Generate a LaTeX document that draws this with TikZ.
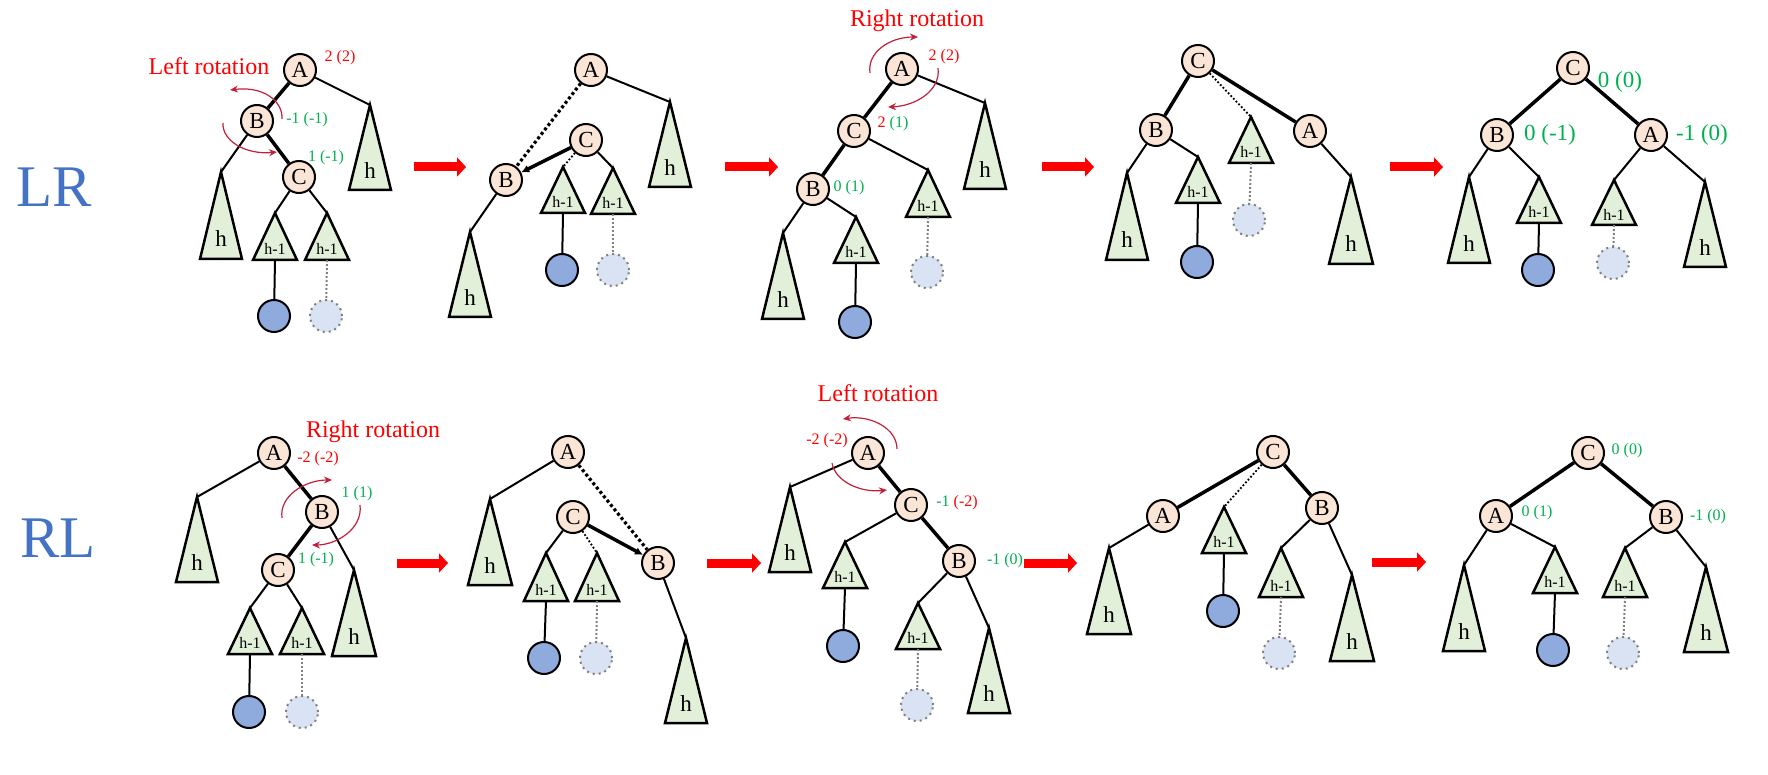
\documentclass[tikz,border=0pt]{standalone}
\usepackage{fontspec}
\setmainfont{Liberation Serif}
\usetikzlibrary{arrows.meta}
\definecolor{peach}{HTML}{FBE5D6}
\definecolor{trigreen}{HTML}{E2F0D9}
\definecolor{leafblue}{HTML}{8FAADC}
\definecolor{ghostfill}{HTML}{DAE3F3}
\definecolor{titleblue}{HTML}{4472C4}
\definecolor{labred}{HTML}{FF0000}
\definecolor{labgreen}{HTML}{00B050}
\definecolor{rotred}{HTML}{C0203A}
\newcommand{\mytree}[7]{%
  \coordinate (#1) at (#2,#3);
  \coordinate (#1b) at (#2,#4);
  \draw[tri] (#1) -- ({#2-#5},#4) -- ({#2+#5},#4) -- cycle;
  \node[#6] (#1l) at (#2,{#3+0.77*(#4-#3)}) {#7};
}
\begin{document}
\begin{tikzpicture}[x=0.5pt,y=-0.5pt,
  vtx/.style={circle,draw,fill=peach,line width=1pt,minimum size=16pt,inner sep=0pt,font=\fontsize{11.5}{12}\selectfont},
  leaf/.style={circle,draw,fill=leafblue,line width=1pt,minimum size=16pt,inner sep=0pt},
  ghost/.style={circle,draw=gray,fill=ghostfill,dotted,line width=1pt,minimum size=16pt,inner sep=0pt},
  tri/.style={draw,fill=trigreen,line width=1.25pt},
  hlab/.style={inner sep=0pt,font=\fontsize{11.5}{12}\selectfont},
  hmlab/.style={inner sep=0pt,font=\fontsize{8}{9}\selectfont},
  edge/.style={line width=1pt},
  thickedge/.style={line width=1.75pt},
  dotedge/.style={line width=1.6pt,dash pattern=on 1.5pt off 1.3pt},
  thindot/.style={line width=0.9pt,dash pattern=on 0.9pt off 1pt},
  leafedge/.style={line width=1pt},
  ghostedge/.style={draw=gray,line width=1pt,dash pattern=on 1pt off 1pt},
  movearr/.style={line width=1.75pt,-{Latex[length=4pt,width=4pt]}},
  bigarr/.style={draw=labred,line width=4.5pt,-{Triangle[length=4.5pt,width=9.5pt]}},
  rotarr/.style={draw=rotred,line width=0.6pt,-{Stealth[length=4pt,width=3.5pt]}},
  small/.style={inner sep=0pt,font=\fontsize{8}{9}\selectfont},
  bigl/.style={inner sep=0pt,font=\fontsize{11.5}{12}\selectfont},
  rottxt/.style={inner sep=0pt,text=labred,font=\fontsize{12}{14}\selectfont},
  title/.style={inner sep=0pt,text=titleblue,font=\fontsize{29.5}{32}\selectfont}
]
\useasboundingbox (0,0) rectangle (1768,775);

% ---------- row titles ----------
\node[title] (LR) at (54,187) {LR};
\node[title] (RL) at (58,538) {RL};

% ================= TOP ROW (LR) =================
% panel 1
\node[vtx] (A1) at (300,70) {A};
\node[vtx] (B1) at (257,121) {B};
\node[vtx] (C1) at (299,177) {C};
\mytree{t1R}{370}{105}{190}{21}{hlab}{h}
\mytree{t1L}{221}{172}{259}{21}{hlab}{h}
\mytree{t1c}{275}{213}{260}{22}{hmlab}{h-1}
\mytree{t1d}{327}{213}{260}{22}{hmlab}{h-1}
\node[leaf] (L1) at (274,316) {};
\node[ghost] (G1) at (326,316) {};
\draw[thickedge] (A1) -- (B1);
\draw[thickedge] (B1) -- (C1);
\draw[edge] (A1) -- (t1R);
\draw[edge] (B1) -- (t1L);
\draw[edge] (C1) -- (t1c);
\draw[edge] (C1) -- (t1d);
\draw[leafedge] (t1cb) -- (L1);
\draw[ghostedge] (t1db) -- (G1);
\node[small,text=labred] (n1a) at (340,58) {2 (2)};
\node[small,text=labgreen] (n1b) at (307,120) {-1 (-1)};
\node[small,text=labgreen] (n1c) at (326,158) {1 (-1)};
\node[rottxt] (r1) at (209,66) {Left rotation};
\coordinate (r1s) at (282,119); \coordinate (r1e) at (230,90);
\draw[rotarr] (r1s) .. controls (283,100) and (262,86) .. (r1e);
\coordinate (r1t) at (223,123); \coordinate (r1u) at (277,152);
\draw[rotarr] (r1t) .. controls (222,141) and (246,155) .. (r1u);
\coordinate (ar1a) at (414,167); \coordinate (ar1b) at (466,167);
\draw[bigarr] (ar1a) -- (ar1b);

% panel 2
\node[vtx] (A2) at (591,70) {A};
\node[vtx] (C2) at (586,140) {C};
\node[vtx] (B2) at (506,180) {B};
\mytree{t2R}{670}{102}{187}{21}{hlab}{h}
\mytree{t2L}{470}{232}{317}{21}{hlab}{h}
\mytree{t2c}{563}{167}{213}{22}{hmlab}{h-1}
\mytree{t2d}{613}{168}{214}{22}{hmlab}{h-1}
\node[leaf] (L2) at (562,270) {};
\node[ghost] (G2) at (613,270) {};
\draw[edge] (A2) -- (t2R);
\draw[dotedge] (A2) -- (B2);
\draw[movearr] (C2) -- (B2);
\draw[thindot] (C2) -- (t2c);
\draw[edge] (C2) -- (t2d);
\draw[edge] (B2) -- (t2L);
\draw[leafedge] (t2cb) -- (L2);
\draw[ghostedge] (t2db) -- (G2);
\coordinate (ar2a) at (725,167); \coordinate (ar2b) at (778,167);
\draw[bigarr] (ar2a) -- (ar2b);

% panel 3
\node[vtx] (A3) at (902,69) {A};
\node[vtx] (C3) at (854,131) {C};
\node[vtx] (B3) at (813,189) {B};
\mytree{t3R}{985}{103}{189}{21}{hlab}{h}
\mytree{t3d}{928}{170}{217}{22}{hmlab}{h-1}
\mytree{t3L}{783}{233}{319}{21}{hlab}{h}
\mytree{t3c}{856}{217}{263}{22}{hmlab}{h-1}
\node[ghost] (G3) at (927,272) {};
\node[leaf] (L3) at (855,322) {};
\draw[thickedge] (A3) -- (C3);
\draw[thickedge] (C3) -- (B3);
\draw[edge] (A3) -- (t3R);
\draw[edge] (C3) -- (t3d);
\draw[edge] (B3) -- (t3L);
\draw[edge] (B3) -- (t3c);
\draw[leafedge] (t3cb) -- (L3);
\draw[ghostedge] (t3db) -- (G3);
\node[rottxt] (r3) at (917,21) {Right rotation};
\node[small,text=labred] (n3a) at (944,57) {2 (2)};
\node[small] (n3b) at (893,124) {\textcolor{labred}{2} \textcolor{labgreen}{(1)}};
\node[small,text=labgreen] (n3c) at (849,188) {0 (1)};
\coordinate (r3s) at (870,73); \coordinate (r3e) at (918,37);
\draw[rotarr] (r3s) .. controls (867,52) and (890,37) .. (r3e);
\coordinate (r3t) at (938,68); \coordinate (r3u) at (888,107);
\draw[rotarr] (r3t) .. controls (941,91) and (915,106) .. (r3u);
\coordinate (ar3a) at (1042,167); \coordinate (ar3b) at (1094,167);
\draw[bigarr] (ar3a) -- (ar3b);

% panel 4
\node[vtx] (C4) at (1198,61) {C};
\node[vtx] (B4) at (1156,130) {B};
\node[vtx] (A4) at (1310,131) {A};
\mytree{t4m}{1251}{117}{163}{22}{hmlab}{h-1}
\mytree{t4L}{1127}{173}{260}{21}{hlab}{h}
\mytree{t4c}{1198}{157}{203}{22}{hmlab}{h-1}
\mytree{t4R}{1351}{177}{264}{22}{hlab}{h}
\node[ghost] (G4) at (1249,220) {};
\node[leaf] (L4) at (1197,262) {};
\draw[thickedge] (C4) -- (B4);
\draw[thickedge] (C4) -- (A4);
\draw[thindot] (C4) -- (t4m);
\draw[edge] (B4) -- (t4L);
\draw[edge] (B4) -- (t4c);
\draw[edge] (A4) -- (t4R);
\draw[leafedge] (t4cb) -- (L4);
\draw[ghostedge] (t4mb) -- (G4);
\coordinate (ar4a) at (1390,167); \coordinate (ar4b) at (1443,167);
\draw[bigarr] (ar4a) -- (ar4b);

% panel 5
\node[vtx] (C5) at (1573,68) {C};
\node[vtx] (B5) at (1497,135) {B};
\node[vtx] (A5) at (1651,135) {A};
\mytree{t5L}{1469}{177}{263}{21}{hlab}{h}
\mytree{t5c}{1539}{177}{223}{22}{hmlab}{h-1}
\mytree{t5d}{1614}{180}{225}{22}{hmlab}{h-1}
\mytree{t5R}{1705}{182}{267}{21}{hlab}{h}
\node[leaf] (L5) at (1538,270) {};
\node[ghost] (G5) at (1613,263) {};
\draw[thickedge] (C5) -- (B5);
\draw[thickedge] (C5) -- (A5);
\draw[edge] (B5) -- (t5L);
\draw[edge] (B5) -- (t5c);
\draw[edge] (A5) -- (t5d);
\draw[edge] (A5) -- (t5R);
\draw[leafedge] (t5cb) -- (L5);
\draw[ghostedge] (t5db) -- (G5);
\node[bigl,text=labgreen] (n5a) at (1620,82) {0 (0)};
\node[bigl,text=labgreen] (n5b) at (1550,135) {0 (-1)};
\node[bigl,text=labgreen] (n5c) at (1702,135) {-1 (0)};

% ================= BOTTOM ROW (RL) =================
% panel 1
\node[vtx] (A6) at (274,453) {A};
\node[vtx] (B6) at (322,512) {B};
\node[vtx] (C6) at (278,570) {C};
\mytree{t6L}{197}{497}{582}{21}{hlab}{h}
\mytree{t6R}{354}{570}{656}{22}{hlab}{h}
\mytree{t6c}{250}{608}{654}{22}{hmlab}{h-1}
\mytree{t6d}{302}{608}{654}{22}{hmlab}{h-1}
\node[leaf] (L6) at (249,712) {};
\node[ghost] (G6) at (302,712) {};
\draw[thickedge] (A6) -- (B6);
\draw[thickedge] (B6) -- (C6);
\draw[edge] (A6) -- (t6L);
\draw[edge] (B6) -- (t6R);
\draw[edge] (C6) -- (t6c);
\draw[edge] (C6) -- (t6d);
\draw[leafedge] (t6cb) -- (L6);
\draw[ghostedge] (t6db) -- (G6);
\node[rottxt] (r6) at (373,432) {Right rotation};
\node[small,text=labred] (n6a) at (318,459) {-2 (-2)};
\node[small,text=labgreen] (n6b) at (357,494) {1 (1)};
\node[small,text=labgreen] (n6c) at (316,560) {1 (-1)};
\coordinate (r6s) at (282,518); \coordinate (r6e) at (332,480);
\draw[rotarr] (r6s) .. controls (279,496) and (305,480) .. (r6e);
\coordinate (r6t) at (360,505); \coordinate (r6u) at (312,545);
\draw[rotarr] (r6t) .. controls (363,529) and (336,545) .. (r6u);
\coordinate (ar6a) at (397,563); \coordinate (ar6b) at (448,563);
\draw[bigarr] (ar6a) -- (ar6b);

% panel 2
\node[vtx] (A7) at (568,452) {A};
\node[vtx] (C7) at (573,517) {C};
\node[vtx] (B7) at (658,563) {B};
\mytree{t7L}{490}{499}{585}{22}{hlab}{h}
\mytree{t7c}{546}{553}{601}{22}{hmlab}{h-1}
\mytree{t7d}{597}{553}{601}{22}{hmlab}{h-1}
\mytree{t7R}{686}{638}{723}{21}{hlab}{h}
\node[leaf] (L7) at (544,658) {};
\node[ghost] (G7) at (596,658) {};
\draw[edge] (A7) -- (t7L);
\draw[dotedge] (A7) -- (B7);
\draw[movearr] (C7) -- (B7);
\draw[edge] (C7) -- (t7c);
\draw[thindot] (C7) -- (t7d);
\draw[edge] (B7) -- (t7R);
\draw[leafedge] (t7cb) -- (L7);
\draw[ghostedge] (t7db) -- (G7);
\coordinate (ar7a) at (707,563); \coordinate (ar7b) at (761,563);
\draw[bigarr] (ar7a) -- (ar7b);

% panel 3
\node[vtx] (A8) at (868,453) {A};
\node[vtx] (C8) at (911,505) {C};
\node[vtx] (B8) at (959,561) {B};
\mytree{t8L}{790}{487}{572}{21}{hlab}{h}
\mytree{t8c}{845}{542}{588}{22}{hmlab}{h-1}
\mytree{t8d}{918}{603}{649}{22}{hmlab}{h-1}
\mytree{t8R}{989}{628}{713}{21}{hlab}{h}
\node[leaf] (L8) at (843,646) {};
\node[ghost] (G8) at (917,705) {};
\draw[thickedge] (A8) -- (C8);
\draw[thickedge] (C8) -- (B8);
\draw[edge] (A8) -- (t8L);
\draw[edge] (C8) -- (t8c);
\draw[edge] (B8) -- (t8d);
\draw[edge] (B8) -- (t8R);
\draw[leafedge] (t8cb) -- (L8);
\draw[ghostedge] (t8db) -- (G8);
\node[rottxt] (r8) at (878,393) {Left rotation};
\node[small,text=labred] (n8a) at (827,441) {-2 (-2)};
\node[small] (n8b) at (957,503) {\textcolor{labgreen}{-1} \textcolor{labred}{(-2)}};
\node[small,text=labgreen] (n8c) at (1005,561) {-1 (0)};
\coordinate (r8s) at (897,449); \coordinate (r8e) at (843,419);
\draw[rotarr] (r8s) .. controls (897,428) and (870,415) .. (r8e);
\coordinate (r8t) at (832,463); \coordinate (r8u) at (887,490);
\draw[rotarr] (r8t) .. controls (835,481) and (860,493) .. (r8u);
\coordinate (ar8a) at (1024,563); \coordinate (ar8b) at (1077,563);
\draw[bigarr] (ar8a) -- (ar8b);

% panel 4
\node[vtx] (C9) at (1273,452) {C};
\node[vtx] (A9) at (1163,516) {A};
\node[vtx] (B9) at (1322,508) {B};
\mytree{t9L}{1109}{548}{634}{22}{hlab}{h}
\mytree{t9m}{1224}{507}{553}{22}{hmlab}{h-1}
\mytree{t9c}{1281}{548}{597}{22}{hmlab}{h-1}
\mytree{t9R}{1352}{575}{661}{22}{hlab}{h}
\node[leaf] (L9) at (1223,611) {};
\node[ghost] (G9) at (1279,653) {};
\draw[thickedge] (C9) -- (A9);
\draw[thickedge] (C9) -- (B9);
\draw[thindot] (C9) -- (t9m);
\draw[edge] (A9) -- (t9L);
\draw[edge] (B9) -- (t9c);
\draw[edge] (B9) -- (t9R);
\draw[leafedge] (t9mb) -- (L9);
\draw[ghostedge] (t9cb) -- (G9);
\coordinate (ar9a) at (1372,562); \coordinate (ar9b) at (1426,562);
\draw[bigarr] (ar9a) -- (ar9b);

% panel 5
\node[vtx] (C10) at (1588,453) {C};
\node[vtx] (A10) at (1496,516) {A};
\node[vtx] (B10) at (1666,517) {B};
\mytree{t10L}{1464}{565}{651}{21}{hlab}{h}
\mytree{t10c}{1555}{547}{593}{22}{hmlab}{h-1}
\mytree{t10d}{1625}{548}{597}{22}{hmlab}{h-1}
\mytree{t10R}{1706}{567}{652}{22}{hlab}{h}
\node[leaf] (L10) at (1553,650) {};
\node[ghost] (G10) at (1623,653) {};
\draw[thickedge] (C10) -- (A10);
\draw[thickedge] (C10) -- (B10);
\draw[edge] (A10) -- (t10L);
\draw[edge] (A10) -- (t10c);
\draw[edge] (B10) -- (t10d);
\draw[edge] (B10) -- (t10R);
\draw[leafedge] (t10cb) -- (L10);
\draw[ghostedge] (t10db) -- (G10);
\node[small,text=labgreen] (n10a) at (1627,451) {0 (0)};
\node[small,text=labgreen] (n10b) at (1537,513) {0 (1)};
\node[small,text=labgreen] (n10c) at (1708,517) {-1 (0)};
\end{tikzpicture}
\end{document}
